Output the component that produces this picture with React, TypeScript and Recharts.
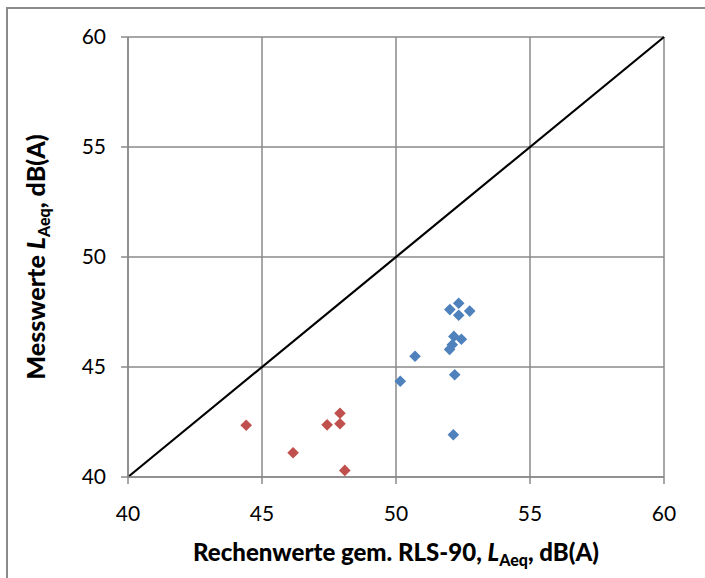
import React from 'react';
import { ScatterChart, Scatter, XAxis, YAxis, CartesianGrid, ReferenceLine } from 'recharts';

// Messpunkte (blau): Rechenwert RLS-90 / Messwert
const blueX = [52.01, 52.34, 52.75, 52.34, 52.16, 52.44, 52.1, 52.0, 50.71, 50.16, 52.19, 52.14];
const blueY = [47.61, 47.9, 47.54, 47.35, 46.39, 46.26, 46.01, 45.8, 45.49, 44.35, 44.65, 41.92];

// Messpunkte (rot)
const redX = [44.41, 46.16, 47.43, 47.91, 47.91, 48.09];
const redY = [42.35, 41.1, 42.37, 42.9, 42.42, 40.3];

const ticks = [40, 45, 50, 55, 60];
const diagonal = [40, 60];

const blueData = blueX.map((x, i) => ({ x, y: blueY[i] }));
const redData = redX.map((x, i) => ({ x, y: redY[i] }));

const FONT = 'Lato, "Open Sans", sans-serif';
const GRID = '#8a8a8a';

const Diamond = (color: string) => (props: any) => {
  const { cx, cy } = props;
  const r = 5.8;
  return (
    <polygon
      points={`${cx},${cy - r} ${cx + r},${cy} ${cx},${cy + r} ${cx - r},${cy}`}
      fill={color}
    />
  );
};

const XTitle = (props: any) => {
  const { viewBox } = props;
  const cx = viewBox.x + viewBox.width / 2;
  return (
    <text x={cx} y={561} textAnchor="middle" fontFamily={FONT} fontWeight={900} fontSize={24} fill="#000">
      Rechenwerte gem. RLS-90, <tspan fontStyle="italic">L</tspan>
      <tspan fontSize={16} dy={5}>Aeq</tspan>
      <tspan dy={-5}>, dB(A)</tspan>
    </text>
  );
};

const YTitle = (props: any) => {
  const { viewBox } = props;
  const cy = viewBox.y + viewBox.height / 2;
  const x = 45;
  return (
    <text
      x={x}
      y={cy}
      transform={`rotate(-90, ${x}, ${cy})`}
      textAnchor="middle"
      fontFamily={FONT}
      fontWeight={900}
      fontSize={25}
      fill="#000"
    >
      Messwerte <tspan fontStyle="italic">L</tspan>
      <tspan fontSize={16} dy={5}>Aeq</tspan>
      <tspan dy={-5}>, dB(A)</tspan>
    </text>
  );
};

export default function App() {
  return (
    <div style={{ position: 'absolute', left: 0, top: 0, width: 705, height: 578, background: '#fff', overflow: 'hidden' }}>
      <div
        style={{
          position: 'absolute',
          left: 6,
          top: 7,
          width: 760,
          height: 640,
          borderLeft: `2px solid ${GRID}`,
          borderTop: `2px solid ${GRID}`,
        }}
      />
      <ScatterChart
        width={705}
        height={578}
        margin={{ top: 37, right: 41, bottom: 41, left: 58 }}
        style={{ position: 'absolute', left: 0, top: 0 }}
      >
        <CartesianGrid stroke={GRID} strokeWidth={1.5} />
        <XAxis
          type="number"
          dataKey="x"
          domain={[40, 60]}
          ticks={ticks}
          height={60}
          stroke={GRID}
          strokeWidth={1.5}
          tickSize={7}
          tickMargin={22}
          tick={{ fill: '#000', fontSize: 21, fontFamily: FONT }}
          label={<XTitle />}
        />
        <YAxis
          type="number"
          dataKey="y"
          domain={[40, 60]}
          ticks={ticks}
          width={70}
          stroke={GRID}
          strokeWidth={1.5}
          tickSize={7}
          tickMargin={15}
          tick={{ fill: '#000', fontSize: 21, fontFamily: FONT }}
          label={<YTitle />}
        />
        <ReferenceLine
          segment={[
            { x: diagonal[0], y: diagonal[0] },
            { x: diagonal[1], y: diagonal[1] },
          ]}
          stroke="#000"
          strokeWidth={2.2}
        />
        <Scatter data={blueData} shape={Diamond('#4F81BD')} isAnimationActive={false} />
        <Scatter data={redData} shape={Diamond('#C0504D')} isAnimationActive={false} />
      </ScatterChart>
    </div>
  );
}
